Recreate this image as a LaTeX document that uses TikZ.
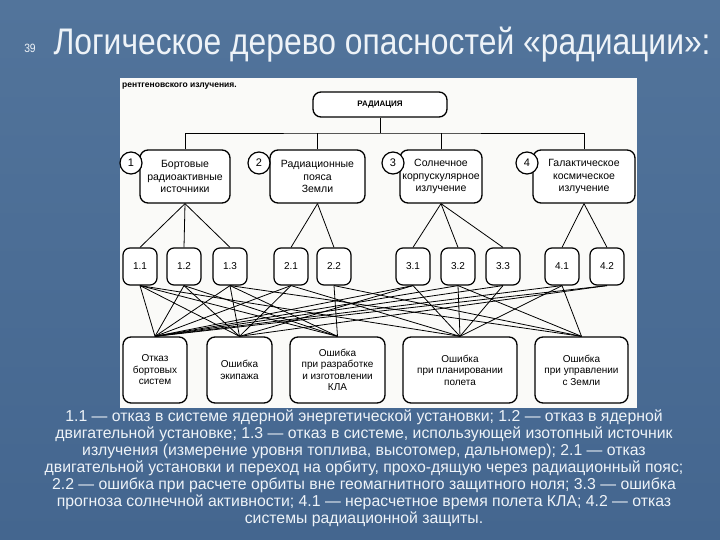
\documentclass[tikz,border=0pt]{standalone}
\usepackage{fontspec}
\setmainfont{Liberation Sans}
\newfontfamily\slidefont[FakeStretch=0.86]{Liberation Sans}
\usetikzlibrary{positioning}
\definecolor{SlideTop}{HTML}{52749B}
\definecolor{SlideBot}{HTML}{44668F}
\definecolor{SlideText}{HTML}{EEF3F8}
\definecolor{PaperWhite}{HTML}{FAFAF8}

\begin{document}
\begin{tikzpicture}[x=1pt, y=-1pt,
  lbox/.style={draw, line width=1.3pt, rounded corners=8pt, fill=white,
    minimum height=53pt, align=center, inner sep=1pt, font=\fontsize{10.5}{12.8}\selectfont},
  numc/.style={draw, circle, line width=1.2pt, fill=white, minimum size=22pt,
    inner sep=0pt, font=\fontsize{11}{12}\selectfont},
  sbox/.style={draw, line width=1.2pt, rounded corners=7pt, fill=white,
    minimum width=34pt, minimum height=37pt, inner sep=0pt, font=\fontsize{10}{12}\selectfont},
  ebox/.style={draw, line width=1.3pt, rounded corners=8pt, fill=white,
    minimum height=66pt, align=center, inner sep=1pt, font=\fontsize{10}{11.5}\selectfont},
  wire/.style={line width=0.8pt}
]
  \useasboundingbox (0,0) rectangle (720,540);
  \shade[top color=SlideTop, bottom color=SlideBot] (0,0) rectangle (720,540);

  % slide heading
  \node[text=SlideText, font=\slidefont\fontsize{12}{14}\selectfont] (page) at (30,48) {39};
  \node[anchor=west, text=SlideText, font=\slidefont\fontsize{37}{40}\selectfont] (title)
    at (50,45) {Логическое дерево опасностей «радиации»:};

  % scanned figure
  \fill[PaperWhite] (120,78) rectangle (637,408);
  \node[anchor=west, inner sep=0pt, font=\fontsize{8.5}{9}\selectfont\bfseries] (cut)
    at (122,86) {рентгеновского излучения.};

  \node[draw, line width=1.3pt, rounded corners=8pt, fill=white, minimum width=134pt,
    minimum height=25pt, font=\fontsize{8}{9}\selectfont\bfseries] (rad) at (380,104.5) {РАДИАЦИЯ};

  \node[lbox, minimum width=90pt] (src) at (185,176.5) {Бортовые\\радиоактивные\\источники};
  \node[lbox, minimum width=95pt] (belt) at (317.5,176.5) {Радиационные\\пояса\\Земли};
  \node[lbox, minimum width=82pt] (sun) at (441,176.5) {Солнечное\\корпускулярное\\излучение};
  \node[lbox, minimum width=102pt] (gal) at (584,176.5) {Галактическое\\космическое\\излучение};

  \node[numc] (c1) at (131,163) {1};
  \node[numc] (c2) at (259,163) {2};
  \node[numc] (c3) at (393,163) {3};
  \node[numc] (c4) at (527,163) {4};

  \coordinate (bus) at (380,133);
  \draw[wire] (rad) -- (bus);
  \draw[wire] (src.north) |- (bus) -| (gal.north);
  \draw[wire] (belt.north) -- (belt.north |- bus);
  \draw[wire] (sun.north) -- (sun.north |- bus);

  \node[sbox] (n11) at (140,266.5) {1.1};
  \node[sbox] (n12) at (184,266.5) {1.2};
  \node[sbox] (n13) at (230,266.5) {1.3};
  \node[sbox] (n21) at (291,266.5) {2.1};
  \node[sbox] (n22) at (334,266.5) {2.2};
  \node[sbox] (n31) at (413,266.5) {3.1};
  \node[sbox] (n32) at (458,266.5) {3.2};
  \node[sbox] (n33) at (503,266.5) {3.3};
  \node[sbox] (n41) at (562,266.5) {4.1};
  \node[sbox] (n42) at (607,266.5) {4.2};

  \node[ebox, minimum width=64pt] (sys) at (155,370) {Отказ\\бортовых\\систем};
  \node[ebox, minimum width=65pt] (crew) at (239.5,370) {Ошибка\\экипажа};
  \node[ebox, minimum width=95pt] (dev) at (337.5,370) {Ошибка\\при разработке\\и изготовлении\\КЛА};
  \node[ebox, minimum width=114pt] (plan) at (460,370) {Ошибка\\при планировании\\полета};
  \node[ebox, minimum width=93pt] (ctrl) at (581.5,370) {Ошибка\\при управлении\\с Земли};

  \foreach \a/\b in {src/n11, src/n12, src/n13, belt/n21, belt/n22,
    sun/n31, sun/n32, sun/n33, gal/n41, gal/n42}
    \draw[wire] (\a.south) -- (\b.north);

  \foreach \a/\b in {n11/sys, n11/crew, n11/dev, n11/plan,
    n12/sys, n12/crew, n12/dev,
    n13/sys, n13/crew, n13/dev, n13/ctrl,
    n21/sys, n21/crew, n21/plan,
    n22/dev, n22/ctrl,
    n31/sys, n31/crew, n31/plan,
    n32/sys, n32/plan, n32/ctrl,
    n33/sys, n33/plan,
    n41/sys, n41/plan, n41/ctrl,
    n42/sys, n42/crew}
    \draw[wire] (\a.south) -- (\b.north);

  % legend under the figure
  \node[text=SlideText, align=center, font=\fontsize{15.8}{17}\selectfont] (notes) at (364,468)
    {1.1 — отказ в системе ядерной энергетической установки; 1.2 — отказ в ядерной\\
     двигательной установке; 1.3 — отказ в системе, использующей изотопный источник\\
     излучения (измерение уровня топлива, высотомер, дальномер); 2.1 — отказ\\
     двигательной установки и переход на орбиту, прохо-дящую через радиационный пояс;\\
     2.2 — ошибка при расчете орбиты вне геомагнитного защитного ноля; 3.3 — ошибка\\
     прогноза солнечной активности; 4.1 — нерасчетное время полета КЛА; 4.2 — отказ\\
     системы радиационной защиты.};
\end{tikzpicture}
\end{document}
